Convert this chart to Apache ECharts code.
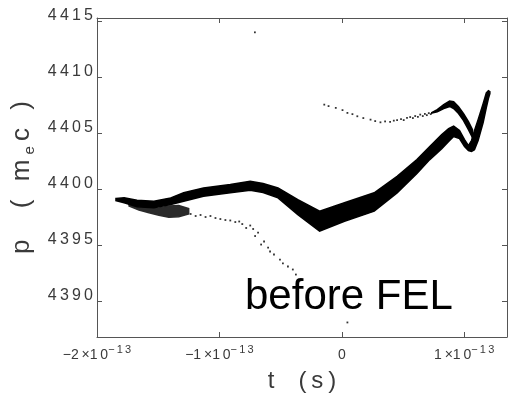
<!DOCTYPE html>
<html>
<head>
<meta charset="utf-8">
<script src="https://cdn.jsdelivr.net/npm/echarts@6/dist/echarts.min.js"></script>
<style>html,body{margin:0;background:#fff}#chart{width:510px;height:406px}</style>
</head>
<body>
<div id="chart"></div>
<script>
// t in units of 1e-13 s, p in m_e c
var xTickVals = [-2, -1, 0, 1];
var yTickVals = [4390, 4395, 4400, 4405, 4410, 4415];

// main dense bunch: edges of the band
var bandT = [-1.845, -1.778, -1.673, -1.535, -1.397, -1.292, -1.130, -0.911, -0.748, -0.643, -0.521, -0.359, -0.181, 0.022, 0.265, 0.452, 0.614, 0.719, 0.817, 0.873, 0.914, 0.962, 1.003, 1.035, 1.060, 1.084, 1.114, 1.155, 1.181, 1.198, 1.210];
var bandTop = [4399.17, 4399.23, 4399.02, 4398.93, 4399.23, 4399.68, 4400.12, 4400.42, 4400.71, 4400.51, 4400.12, 4399.08, 4398.04, 4398.79, 4399.68, 4401.16, 4402.65, 4403.81, 4404.88, 4405.42, 4405.64, 4405.24, 4404.44, 4403.90, 4404.35, 4405.24, 4406.22, 4407.65, 4408.61, 4408.81, 4408.72];
var bandBottom = [4398.99, 4398.79, 4398.43, 4398.34, 4398.63, 4398.93, 4399.37, 4399.68, 4399.91, 4399.71, 4399.23, 4397.74, 4396.25, 4397.14, 4398.04, 4399.68, 4401.40, 4402.65, 4403.63, 4404.26, 4404.71, 4404.53, 4403.81, 4403.46, 4403.37, 4403.54, 4404.35, 4405.96, 4407.29, 4408.10, 4408.54];

// upper branch (dense part near the right)
var upT = [0.735, 0.780, 0.833, 0.881, 0.914, 0.954, 0.995, 1.035, 1.068];
var upTop = [4406.85, 4407.12, 4407.56, 4407.88, 4407.83, 4407.38, 4406.76, 4406.04, 4405.33];
var upBottom = [4406.80, 4406.92, 4407.20, 4407.40, 4407.21, 4406.76, 4406.13, 4405.33, 4404.62];

// speckled cloud under the left end
var cloudT = [-1.738, -1.657, -1.575, -1.494, -1.413, -1.332, -1.251];
var cloudTop = [4398.63, 4398.41, 4398.32, 4398.32, 4398.50, 4398.54, 4398.28];
var cloudBottom = [4398.50, 4398.15, 4397.90, 4397.68, 4397.50, 4397.55, 4397.80];

// sparse particles, upper branch
var upDotsT = [-0.143, -0.108, -0.049, 0.006, 0.046, 0.087, 0.127, 0.176, 0.235, 0.273, 0.316, 0.354, 0.395, 0.425, 0.452, 0.484, 0.506, 0.533, 0.559, 0.581, 0.600, 0.622, 0.641, 0.662, 0.679, 0.695, 0.711, 0.727];
var upDotsP = [4407.56, 4407.43, 4407.27, 4407.07, 4406.82, 4406.71, 4406.52, 4406.36, 4406.22, 4406.09, 4405.98, 4406.06, 4406.02, 4406.13, 4406.18, 4406.27, 4406.18, 4406.38, 4406.45, 4406.36, 4406.54, 4406.46, 4406.67, 4406.54, 4406.73, 4406.62, 4406.80, 4406.71];

// sparse particles, lower tail
var lowDotsT = [-1.235, -1.194, -1.154, -1.113, -1.073, -1.032, -0.992, -0.951, -0.911, -0.870, -0.838, -0.813, -0.781, -0.748, -0.724, -0.708, -0.684, -0.659, -0.635, -0.602, -0.586, -0.554, -0.505, -0.481, -0.440, -0.400, -0.375];
var lowDotsP = [4397.79, 4397.61, 4397.70, 4397.52, 4397.61, 4397.43, 4397.34, 4397.25, 4397.21, 4397.07, 4397.12, 4396.89, 4396.54, 4396.76, 4396.45, 4395.82, 4396.13, 4395.06, 4395.33, 4394.79, 4394.44, 4394.17, 4393.72, 4393.37, 4393.10, 4392.83, 4392.38];

// lone particles
var strayT = [-0.710, 0.046];
var strayP = [4414.02, 4388.10];

var ts = '\u2009';
var axisColor = '#555';
var textColor = '#3a3a3a';
var font = '"Liberation Sans", Arial, sans-serif';

function spaced(s) {
	return s.split('').join(ts);
}

function xLabel(v) {
	if (v === 0) return '{b|0}';
	var m = (v < 0 ? '\u2212' : '') + Math.abs(v);
	return '{b|' + m + ts + '\u00d71' + ts + '0}{s|' + spaced('\u221213') + '}';
}

function pairs(a, b) {
	var out = [];
	for (var i = 0; i < a.length; i++) out.push([a[i], b[i]]);
	return out;
}

function polySeries(t, top, bottom, color) {
	return {
		type: 'custom',
		silent: true,
		data: [[t[0], top[0]]],
		renderItem: function (params, api) {
			var pts = [];
			for (var i = 0; i < t.length; i++) pts.push(api.coord([t[i], top[i]]));
			for (var j = t.length - 1; j >= 0; j--) pts.push(api.coord([t[j], bottom[j]]));
			return {
				type: 'polygon',
				shape: { points: pts },
				style: { fill: color, stroke: color, lineWidth: 1.5 }
			};
		}
	};
}

function dotSeries(t, p) {
	return {
		type: 'scatter',
		silent: true,
		symbol: 'rect',
		symbolSize: 1.8,
		itemStyle: { color: '#000' },
		data: pairs(t, p)
	};
}

var chart = echarts.init(document.getElementById('chart'));
chart.setOption({
	animation: false,
	backgroundColor: '#fff',
	grid: { left: 97, top: 18, right: 0, bottom: 69 },
	xAxis: [{
		type: 'value',
		min: -2,
		max: 1.35,
		interval: 1,
		splitLine: { show: false },
		axisLine: { onZero: false, lineStyle: { color: axisColor, width: 1 } },
		axisTick: { inside: true, length: 5, lineStyle: { color: axisColor } },
		axisLabel: {
			margin: 7,
			showMinLabel: true,
			showMaxLabel: true,
			formatter: function (v) {
				return xTickVals.indexOf(v) >= 0 ? xLabel(v) : '';
			},
			rich: {
				b: { fontSize: 14, fontFamily: font, color: textColor, verticalAlign: 'bottom', lineHeight: 18 },
				s: { fontSize: 11, fontFamily: font, color: textColor, verticalAlign: 'top', lineHeight: 18 }
			}
		},
		name: 't\u2003(\u2009s\u2009)',
		nameLocation: 'middle',
		nameGap: 32,
		nameTextStyle: { fontSize: 24, fontFamily: font, color: textColor }
	}, {
		type: 'value',
		position: 'top',
		min: -2,
		max: 1.35,
		interval: 1,
		splitLine: { show: false },
		axisLine: { onZero: false, lineStyle: { color: axisColor, width: 1 } },
		axisTick: { inside: true, length: 5, lineStyle: { color: axisColor } },
		axisLabel: { show: false }
	}],
	yAxis: [{
		type: 'value',
		min: 4386.8,
		max: 4415.3,
		splitLine: { show: false },
		axisLine: { onZero: false, lineStyle: { color: axisColor, width: 1 } },
		axisTick: { inside: true, length: 5, lineStyle: { color: axisColor } },
		axisLabel: {
			margin: 4,
			fontSize: 16,
			fontFamily: font,
			color: textColor,
			verticalAlign: 'bottom',
			lineHeight: 12,
			showMinLabel: true,
			showMaxLabel: true,
			formatter: function (v) {
				return yTickVals.indexOf(v) >= 0 ? spaced(String(v)) : '';
			}
		},
		name: '{n|p\u2003\u2009(\u2002\u2009m\u2009}{sub|e}{n|\u2009c\u2002\u2009)}',
		nameLocation: 'middle',
		nameRotate: 90,
		nameGap: 60,
		nameTextStyle: {
			rich: {
				n: { fontSize: 26, fontFamily: font, color: textColor, lineHeight: 30, verticalAlign: 'middle' },
				sub: { fontSize: 15, fontFamily: font, color: textColor, lineHeight: 30, verticalAlign: 'bottom' }
			}
		}
	}, {
		type: 'value',
		position: 'right',
		min: 4386.8,
		max: 4415.3,
		splitLine: { show: false },
		axisLine: { onZero: false, lineStyle: { color: axisColor, width: 1 } },
		axisTick: { inside: true, length: 5, lineStyle: { color: axisColor } },
		axisLabel: { show: false }
	}],
	graphic: [{
		type: 'text',
		left: 245,
		top: 276,
		style: { text: 'before FEL', font: '42px "Liberation Sans", Arial, sans-serif', fill: '#000' }
	}],
	series: [
		polySeries(cloudT, cloudTop, cloudBottom, '#2a2a2a'),
		polySeries(bandT, bandTop, bandBottom, '#000'),
		polySeries(upT, upTop, upBottom, '#000'),
		dotSeries(upDotsT, upDotsP),
		dotSeries(lowDotsT, lowDotsP),
		dotSeries(strayT, strayP)
	]
});
</script>
</body>
</html>
